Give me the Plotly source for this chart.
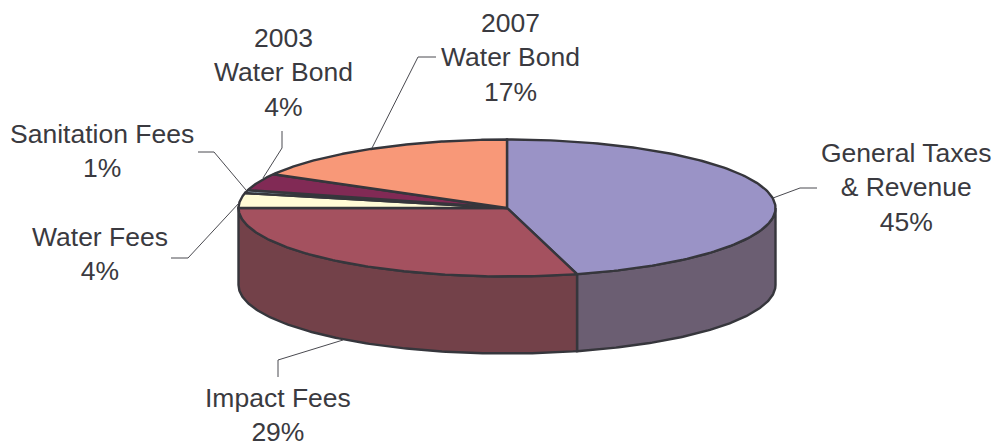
import numpy as np
import plotly.graph_objects as go

categories = ["General Taxes<br>&amp; Revenue", "Impact Fees", "Water Fees", "Sanitation Fees", "2003<br>Water Bond", "2007<br>Water Bond"]
shares = [45.8, 29.2, 3.5, 0.7, 4.0, 16.8]
shown_pct = [45, 29, 4, 1, 4, 17]
top_colors = ["#9A93C6", "#A4515F", "#FFFBD6", "#BFE4F5", "#812A55", "#F89878"]
side_colors = ["#6B5E72", "#734149", "#8A876F", "#6F8088", "#4A2036", "#8A5A48"]

W, H = 995, 446
CX, CY, RX, RY, DEPTH = 507.0, 208.0, 268.5, 68.5, 77.0
EDGE = "#36363C"
TEXT = "#3A3A40"
FONT = "Liberation Sans, Arial, sans-serif"
FONT_SIZE = 26.5

label_pos = [(905.5, 187), (278, 415), (99.5, 254), (101.5, 151), (283, 72), (510, 57)]
leaders = [
    [(773, 198), (800, 188), (817, 188)],
    [(343, 340), (278, 360), (278, 377)],
    [(239, 203), (188, 258), (171, 258)],
    [(246, 190), (214, 152), (198, 152)],
    [(263, 178), (282, 148), (282, 131)],
    [(372, 148), (418, 57), (436, 57)],
]


def rim(a, dy=0.0):
    r = np.radians(a)
    return CX + RX * np.sin(r), CY - RY * np.cos(r) + dy


fig = go.Figure()


def poly(x, y, fill, width=2.4):
    fig.add_trace(go.Scatter(x=x, y=y, mode="lines", fill="toself", fillcolor=fill,
                             line=dict(color=EDGE, width=width), hoverinfo="skip", showlegend=False))


edges = np.concatenate([[0.0], np.cumsum(shares)]) * 360.0 / sum(shares)

# outer wall: only the part of each slice on the near side of the disc
for i in range(len(shares)):
    a0, a1 = max(edges[i], 90.0), min(edges[i + 1], 270.0)
    if a1 <= a0:
        continue
    a = np.linspace(a0, a1, 120)
    xt, yt = rim(a)
    xb, yb = rim(a[::-1], DEPTH)
    poly(np.r_[xt, xb, xt[0]], np.r_[yt, yb, yt[0]], side_colors[i])

# top face
for i in range(len(shares)):
    a = np.linspace(edges[i], edges[i + 1], 160)
    xt, yt = rim(a)
    poly(np.r_[CX, xt, CX], np.r_[CY, yt, CY], top_colors[i])

# leader lines
for pts in leaders:
    fig.add_trace(go.Scatter(x=[p[0] for p in pts], y=[p[1] for p in pts], mode="lines",
                             line=dict(color="#4A4A50", width=1), hoverinfo="skip", showlegend=False))

for name, pct, (x, y) in zip(categories, shown_pct, label_pos):
    fig.add_annotation(x=x, y=y, text=f"{name}<br>{pct}%", showarrow=False, align="center",
                       xanchor="center", yanchor="middle",
                       font=dict(family=FONT, size=FONT_SIZE, color=TEXT))

fig.update_layout(
    width=W, height=H, margin=dict(l=0, r=0, t=0, b=0),
    paper_bgcolor="white", plot_bgcolor="white", showlegend=False,
    xaxis=dict(range=[0, W], visible=False, fixedrange=True),
    yaxis=dict(range=[H, 0], visible=False, fixedrange=True),
)
fig.write_html("out.html", config={"displayModeBar": False},
               post_script="document.body.style.margin='0';document.body.style.overflow='hidden';")
